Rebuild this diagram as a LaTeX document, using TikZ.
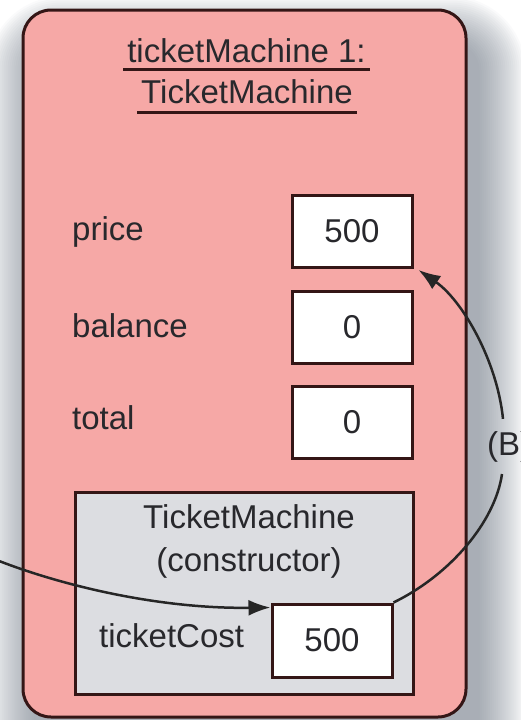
\documentclass[tikz,border=0pt]{standalone}
\usepackage{fontspec}
\setmainfont{Liberation Sans}
\usetikzlibrary{arrows.meta,backgrounds}

\definecolor{objpink}{RGB}{246,168,166}
\definecolor{ctorgray}{RGB}{220,221,225}
\definecolor{edgebrown}{RGB}{52,22,22}
\definecolor{ink}{RGB}{40,40,44}
\definecolor{shadowgray}{RGB}{105,115,128}

\begin{document}
\begin{tikzpicture}[
  x=1pt, y=-1pt,
  font=\fontsize{33}{40}\selectfont,
  every node/.style={text=ink},
  objbox/.style={draw=edgebrown, line width=3pt, fill=objpink,
    rounded corners=28pt, minimum width=443pt, minimum height=707pt},
  ctorbox/.style={draw=edgebrown, line width=3pt, fill=ctorgray,
    minimum width=338pt, minimum height=202pt},
  fieldbox/.style={draw=edgebrown, line width=3pt, fill=white,
    minimum width=120pt, minimum height=72pt, inner sep=0pt},
  lbl/.style={inner sep=0pt, anchor=base west},
  titletext/.style={inner sep=0pt, anchor=base},
  uline/.style={draw=edgebrown, line width=3pt},
  link/.style={draw=black!85, line width=2.5pt,
    -{Latex[length=22pt, width=16pt]}},
]
\useasboundingbox (0,0) rectangle (520,720);

% object of class TicketMachine
\node[objbox] (obj) at (244.5,363.5) {};

% soft drop shadow: stacked translucent layers, widening outwards
\begin{scope}[on background layer]
  \foreach \e in {0,2,...,46} {
    \pgfmathsetmacro\rad{28+\e}
    \fill[shadowgray, fill opacity=0.034, rounded corners=\rad pt]
      ([shift={(12-\e,34-\e)}]obj.north west) rectangle
      ([shift={(12+\e,34+\e)}]obj.south east);
  }
\end{scope}

% object heading, underlined
\node[titletext] (t1) at (246.5,62) {ticketMachine 1:};
\node[titletext] (t2) at (247,103) {TicketMachine};
\draw[uline] ([xshift=-4pt, yshift=-7pt]t1.base west) -- ([xshift=4pt, yshift=-7pt]t1.base east);
\draw[uline] ([xshift=-4pt, yshift=-9pt]t2.base west) -- ([xshift=4pt, yshift=-9pt]t2.base east);

% fields
\node[lbl] (lprice) at (72,240) {price};
\node[fieldbox] (price) at (352,231.5) {500};
\node[lbl] (lbalance) at (72,337) {balance};
\node[fieldbox] (balance) at (352,327) {0};
\node[lbl] (ltotal) at (72,429) {total};
\node[fieldbox] (total) at (352,422.5) {0};

% constructor call frame
\node[ctorbox] (ctor) at (244,593) {};
\node[titletext] (c1) at (249,528) {TicketMachine};
\node[titletext] (c2) at (249,571) {(constructor)};
\node[lbl] (lcost) at (99,647) {ticketCost};
\node[fieldbox, minimum height=73pt] (cost) at (332,640.5) {500};

% parameter passed in from outside
\coordinate (src) at (-6,559);
\draw[link] (src) .. controls (62,586) and (160,609) .. ([yshift=-5pt]cost.north west);

% parameter copied into the field
\node[inner sep=0pt, anchor=base] (blabel) at (509,455) {(B)};
\draw[link, -] (cost.north east) .. controls (450,575) and (495,522) .. ([xshift=-7pt, yshift=-12pt]blabel.south);
\draw[link] ([xshift=-6pt, yshift=12pt]blabel.north) .. controls (497,360) and (462,300) .. ([xshift=5pt, yshift=-1pt]price.south east);
\end{tikzpicture}
\end{document}
